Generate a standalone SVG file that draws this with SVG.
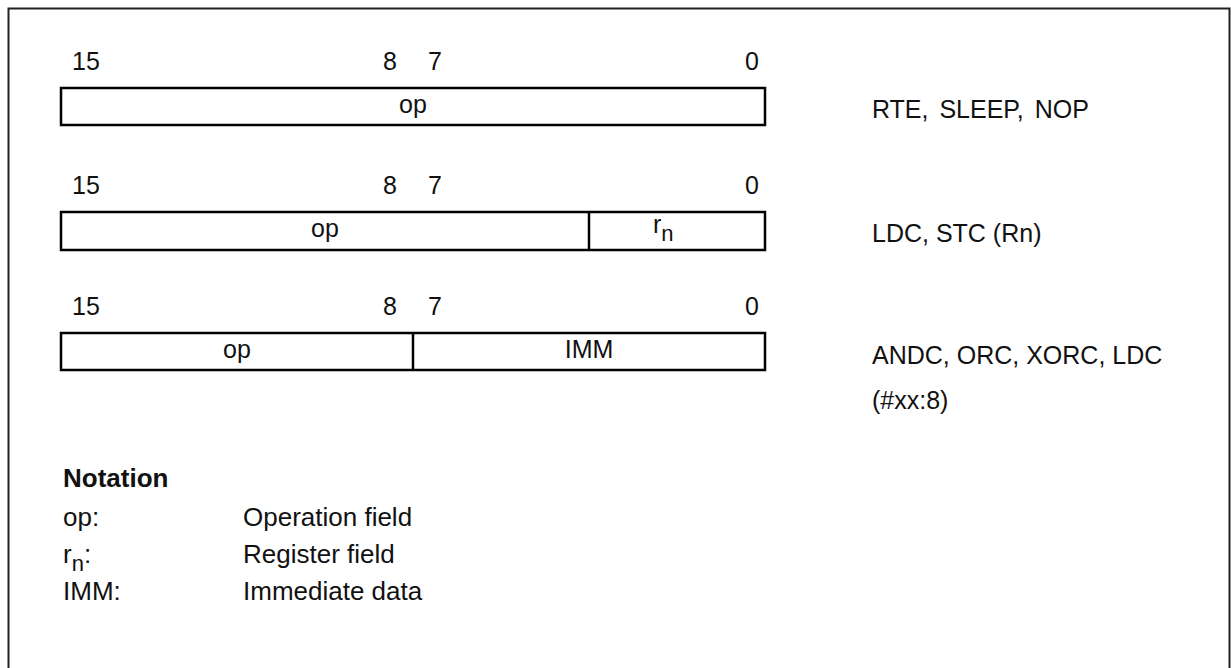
<svg xmlns="http://www.w3.org/2000/svg" width="1231" height="668" viewBox="0 0 1231 668">
<style>
text{font-family:"Liberation Sans",Arial,sans-serif;font-size:25px;fill:#111}
.b{font-weight:bold}
.n{font-size:26px}
.box{fill:#fff;stroke:#000;stroke-width:2.5}
.div{stroke:#000;stroke-width:2.5}
.mid{text-anchor:middle}
</style>
<rect x="0" y="0" width="1231" height="668" fill="#fff"/>
<rect id="frame" x="8.5" y="8.5" width="1221" height="680" fill="none" stroke="#222" stroke-width="2"/>
<g id="row1">
<text x="72" y="70">15</text>
<text x="383" y="70">8</text>
<text x="428" y="70">7</text>
<text x="745" y="70">0</text>
<rect class="box" x="61" y="88" width="704" height="37"/>
<text class="mid" x="413" y="113">op</text>
</g>
<g id="row2">
<text x="72" y="194">15</text>
<text x="383" y="194">8</text>
<text x="428" y="194">7</text>
<text x="745" y="194">0</text>
<rect class="box" x="61" y="212" width="704" height="38"/>
<line class="div" x1="589" y1="212" x2="589" y2="250"/>
<text class="mid" x="325" y="237">op</text>
<text x="653" y="233">r<tspan font-size="22" dy="8">n</tspan></text>
</g>
<g id="row3">
<text x="72" y="315">15</text>
<text x="383" y="315">8</text>
<text x="428" y="315">7</text>
<text x="745" y="315">0</text>
<rect class="box" x="61" y="333" width="704" height="37"/>
<line class="div" x1="413" y1="333" x2="413" y2="370"/>
<text class="mid" x="237" y="358">op</text>
<text class="mid" x="589" y="358">IMM</text>
</g>
<g id="labels">
<text x="872" y="118" word-spacing="4">RTE, SLEEP, NOP</text>
<text x="872" y="242">LDC, STC (Rn)</text>
<text x="872" y="364">ANDC, ORC, XORC, LDC</text>
<text x="872" y="409">(#xx:8)</text>
</g>
<g id="notation">
<text class="b n" x="63" y="487">Notation</text>
<text class="n" x="63" y="526">op:</text>
<text class="n" x="243" y="526">Operation field</text>
<text class="n" x="63" y="563">r<tspan font-size="22" dy="8">n</tspan><tspan dy="-8">:</tspan></text>
<text class="n" x="243" y="563">Register field</text>
<text class="n" x="63" y="600">IMM:</text>
<text class="n" x="243" y="600">Immediate data</text>
</g>
</svg>
